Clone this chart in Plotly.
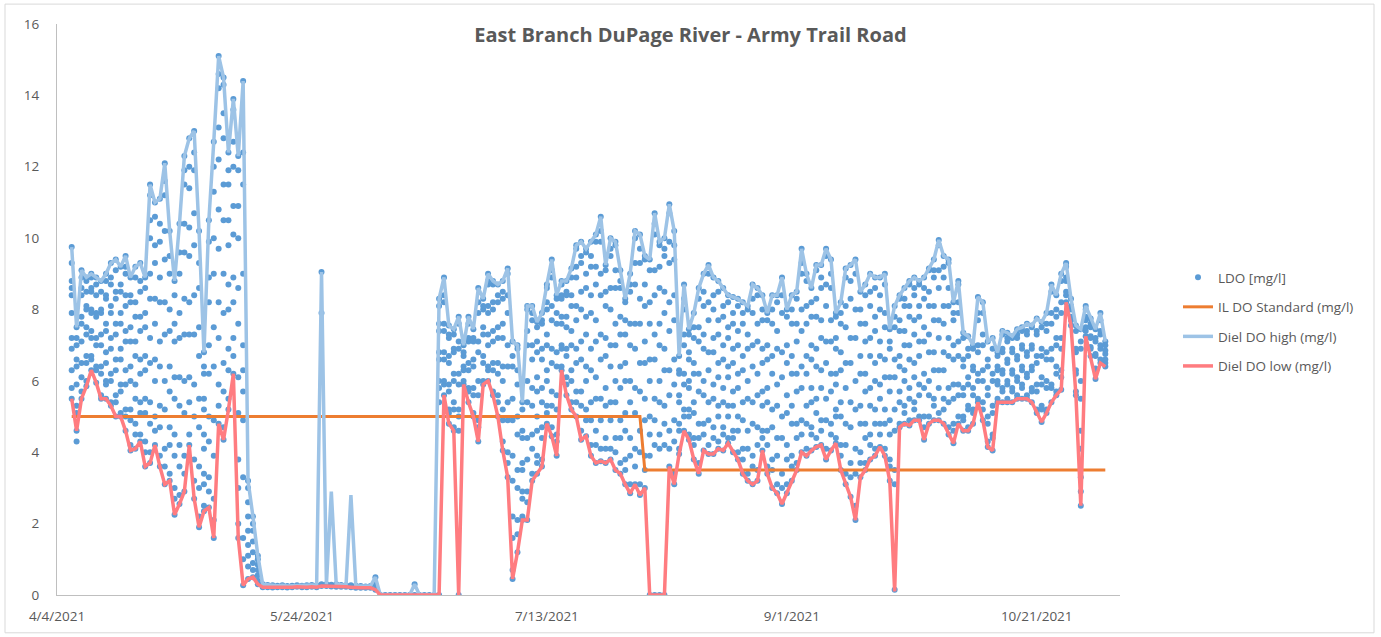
import plotly.graph_objects as go
import pandas as pd

# ---------------- data ----------------
start_date = "2021-04-07"   # first day with readings (daily series)

# Diel DO high (mg/l), one value per day from 4/7/2021
diel_high = [
    9.75, 7.5, 9.1, 8.9, 9.0, 8.9, 8.8, 9.0, 9.3, 9.4, 9.2, 9.5, 8.9, 9.2, 9.3, 8.9,
    11.5, 11.0, 11.1, 12.1, 10.2, 8.8, 10.4, 12.3, 12.8, 13.0, 10.2, 6.8, 10.5, 12.7,
    15.1, 14.5, 12.4, 13.9, 12.3, 14.4,
    3.2, 2.2, 1.1,
    0.3, 0.28, 0.27, 0.26, 0.27, 0.25, 0.26, 0.27, 0.26, 0.27, 0.28, 0.27,
    9.05, 0.3, 2.9, 0.3, 0.28, 0.27, 2.8, 0.26, 0.25, 0.24, 0.25, 0.5,
    0, 0, 0, 0, 0, 0, 0, 0.3, 0, 0, 0, 0,
    8.3, 8.9, 7.55, 7.45, 7.8, 7.0, 7.8, 7.45, 8.6, 8.3, 9.0, 8.8, 8.7, 8.8, 9.15, 7.1,
    7.0, 5.4, 8.1, 8.1, 7.65, 7.9, 8.7, 9.4, 8.4, 8.8, 8.8, 9.15, 9.8, 9.9, 9.7, 9.9,
    10.1, 10.6, 9.25, 10.0, 9.9, 9.1, 8.3, 9.0, 10.2, 10.1, 9.5, 9.4, 10.7, 9.9, 10.0,
    10.95, 10.2, 6.7, 8.7, 7.45, 7.9, 8.6, 9.0, 9.25, 8.9, 8.8, 8.6, 8.4, 8.35, 8.3,
    8.2, 8.1, 8.7, 8.6, 8.4, 7.9,
    8.4, 8.4, 8.9, 8.0, 8.4, 8.5, 9.7, 9.0, 8.6, 9.25, 9.25, 9.7, 9.4, 7.9, 8.2, 9.15,
    9.25, 9.4, 8.5, 8.7, 9.0, 8.9, 8.9, 9.0, 7.45, 8.1, 8.4, 8.6, 8.8, 8.9, 8.8, 8.9,
    9.15, 9.4, 9.95, 9.5, 9.4, 8.2,
    8.8, 7.35, 7.25, 7.0, 8.35, 8.2, 7.1, 7.2, 6.8, 7.4, 7.35, 7.25, 7.45, 7.5, 7.6,
    7.55, 7.75, 7.65, 7.9, 8.7, 8.4, 9.0, 9.3, 8.3, 7.55, 7.45, 8.1, 7.75, 7.45, 7.9, 7.1,
]

# Diel DO low (mg/l), one value per day from 4/7/2021
diel_low = [
    5.5, 4.6, 5.5, 5.85, 6.3, 5.95, 5.5, 5.5, 5.3, 5.0, 5.0, 4.6, 4.05, 4.1, 4.3, 3.6,
    3.7, 4.2, 3.6, 3.1, 3.2, 2.25, 2.55, 2.9, 4.2, 2.7, 1.9, 2.35, 2.45, 1.6, 4.8, 4.35,
    5.2, 6.2, 1.6, 0.27,
    0.45, 0.5, 0.3,
    0.22, 0.22, 0.21, 0.22, 0.22, 0.21, 0.22, 0.23, 0.22, 0.22, 0.23, 0.22,
    0.25, 0.25, 0.24, 0.23, 0.23, 0.23, 0.22, 0.2, 0.2, 0.2, 0.2, 0.15,
    0, 0, 0, 0, 0, 0, 0, 0, 0, 0, 0, 0,
    0, 5.6, 4.8, 4.6, 0, 5.9, 5.4, 5.0, 4.3, 5.9, 6.0, 5.6, 5.0, 4.05, 3.3, 0.45,
    1.2, 2.1, 2.1, 3.2, 3.4, 3.6, 4.8, 4.45, 3.9, 6.3, 5.6, 5.2, 5.0, 4.35, 4.45, 3.9,
    3.7, 3.75, 3.7, 3.8, 3.5, 3.4, 3.1, 2.85, 3.1, 2.8, 3.0, 0, 0, 0, 0, 3.6, 3.1,
    3.95, 4.6, 4.35, 3.8, 3.4, 4.05, 3.95, 3.95, 4.1, 4.05, 4.25, 4.0, 3.8, 3.4, 3.2,
    3.1, 3.2, 4.05, 3.4,
    3.0, 2.85, 2.55, 2.85, 3.2, 3.5, 4.0, 3.9, 4.05, 4.15, 4.2, 3.8, 4.05, 4.25, 3.5,
    3.1, 2.75, 2.1, 3.3, 3.5, 3.8, 3.9, 4.15, 3.9, 3.2, 0.1, 4.7, 4.8, 4.75, 4.9, 4.9,
    4.35, 4.8, 4.9, 4.9, 4.8, 4.5, 4.25,
    4.8, 4.6, 4.6, 4.8, 5.4, 4.9, 4.15, 4.05, 5.4, 5.4, 5.4, 5.4, 5.5, 5.5, 5.5, 5.4,
    5.1, 4.85, 5.1, 5.4, 5.6, 5.75, 8.2, 7.55, 5.6, 2.5, 7.25, 6.7, 6.05, 6.5, 6.4,
]

# LDO readings (mg/l): the readings of each day from 4/7/2021, one string per day
ldo_readings = [
    "5.5 5.8 6.3 6.9 7.2 7.9 8.4 8.6 8.8 9.3 9.75", "4.3 4.6 5.1 5.3 5.9 6.4 6.6 7.0 7.2 7.5",
    "5.5 5.7 6.1 6.5 7.1 7.6 7.8 8.4 8.6 8.9 9.1", "5.85 6.0 6.5 6.7 7.3 7.5 8.0 8.1 8.5 8.8 8.9",
    "6.3 6.6 6.7 7.2 7.4 7.9 8.0 8.5 8.6 8.9 9.0", "5.95 6.3 6.4 7.0 7.2 7.8 7.9 8.4 8.7 8.9",
    "5.5 5.6 6.2 6.4 7.0 7.3 7.9 8.0 8.5 8.8", "5.5 5.9 6.0 6.5 6.8 7.4 7.6 8.3 8.4 8.8 9.0",
    "5.3 5.4 6.0 6.2 6.9 7.2 7.9 8.1 8.7 8.9 9.3", "5.0 5.4 5.6 6.3 6.6 7.3 7.6 8.3 8.5 9.1 9.4",
    "5.0 5.1 5.7 5.9 6.6 6.9 7.6 7.9 8.5 8.7 9.2", "4.6 5.0 5.2 5.9 6.3 7.1 7.4 8.1 8.4 9.0 9.2 9.5",
    "4.05 4.2 4.9 5.2 6.0 6.4 7.1 7.5 8.2 8.4 8.9", "4.1 4.5 4.8 5.5 5.9 6.7 7.1 7.8 8.2 8.9 9.2",
    "4.3 4.5 5.1 5.4 6.2 6.6 7.4 7.8 8.5 8.8 9.3", "3.6 4.0 4.3 5.1 5.5 6.3 6.7 7.5 7.9 8.6 8.9",
    "3.7 4.0 4.8 5.4 6.5 7.2 8.3 9.0 10.0 10.5 11.2 11.5", "4.2 4.6 5.0 6.0 6.6 7.6 8.3 9.3 9.8 10.6 11.0",
    "3.6 3.9 4.7 5.3 6.4 7.1 8.2 8.9 9.9 10.4 11.1", "3.1 3.6 4.1 5.2 6.0 7.3 8.2 9.4 10.2 11.2 11.6 12.1",
    "3.2 3.4 4.2 4.7 5.7 6.4 7.4 8.0 9.0 9.5 10.2", "2.25 2.7 3.0 3.9 4.5 5.5 6.1 7.1 7.6 8.4 8.8",
    "2.55 2.8 3.6 4.2 5.3 6.1 7.2 7.9 9.0 9.6 10.4", "2.9 3.4 3.9 5.1 6.0 7.3 8.3 9.6 10.4 11.5 11.9 12.3",
    "4.2 4.5 5.4 6.1 7.3 8.2 9.5 10.3 11.4 12.0 12.8", "2.7 3.2 3.8 5.0 5.9 7.3 8.4 9.8 10.7 11.9 12.4 13.0",
    "1.9 2.2 3.0 3.6 4.7 5.5 6.7 7.5 8.6 9.3 10.2", "2.35 2.5 3.1 3.4 4.1 4.5 5.2 5.5 6.2 6.4 6.8",
    "2.45 2.9 3.3 4.3 5.0 6.2 7.0 8.2 8.9 9.9 10.5", "1.6 2.1 2.7 3.9 4.9 6.4 7.5 9.0 10.0 11.3 12.0 12.7",
    "4.8 5.3 5.9 7.2 8.2 9.7 10.8 12.2 13.1 14.2 14.6 15.1", "4.35 4.7 5.7 6.5 7.9 9.0 10.5 11.5 12.8 13.5 14.3 14.5",
    "5.2 5.5 6.3 6.9 8.0 8.7 9.8 10.5 11.5 11.9 12.4", "6.2 6.7 7.2 8.2 8.9 10.1 10.9 12.0 12.7 13.6 13.9",
    "1.6 2.0 3.0 3.8 5.1 6.1 7.6 8.6 10.0 10.9 11.9 12.3", "0.27 1.0 1.6 3.3 4.9 5.7 6.3 7.0 9.0 11.5 12.4 14.4",
    "0.45 0.8 1.1 1.4 1.8 2.2 2.6 3.0 3.2", "0.5 0.7 0.9 1.2 1.5 1.8 2.0 2.2", "0.3 0.4 0.55 0.7 0.85 1.0 1.1",
    "0.22 0.25 0.27 0.3", "0.22 0.24 0.26 0.28", "0.21 0.24 0.27", "0.22 0.24 0.26",
    "0.22 0.25 0.27", "0.21 0.23 0.25", "0.22 0.24 0.26", "0.23 0.25 0.27",
    "0.22 0.24 0.26", "0.22 0.25 0.27", "0.23 0.26 0.28", "0.22 0.25 0.27",
    "0.25 0.3 7.9 9.05", "0.25 0.28 0.3", "0.24 0.27 0.29", "0.23 0.26 0.3",
    "0.23 0.26 0.28", "0.23 0.25 0.27", "0.22 0.25 0.27", "0.2 0.24 0.26",
    "0.2 0.23 0.25", "0.2 0.22 0.24", "0.2 0.23 0.25", "0.15 0.3 0.5",
    "0", "0", "0", "0", "0", "0", "0", "0 0.3", "0", "0", "0", "0",
    "0 5.4 5.8 6.0 6.6 6.8 7.4 7.6 8.1 8.3", "5.6 5.9 6.0 6.6 6.8 7.4 7.6 8.2 8.4 8.9",
    "4.8 5.1 5.2 5.7 5.9 6.5 6.7 7.2 7.3 7.55", "4.6 4.7 5.2 5.4 6.0 6.2 6.8 6.9 7.3 7.45",
    "0 4.6 5.0 5.2 5.9 6.2 6.9 7.1 7.6 7.8", "5.9 6.0 6.3 6.4 6.7 6.8 7.0",
    "5.4 5.7 5.8 6.3 6.5 7.1 7.2 7.6 7.8", "5.0 5.1 5.6 5.8 6.4 6.6 7.1 7.2 7.45",
    "4.3 4.7 4.9 5.6 6.0 6.8 7.1 7.9 8.2 8.6", "5.9 6.0 6.5 6.7 7.3 7.5 8.0 8.1 8.3",
    "6.0 6.3 6.4 7.0 7.3 7.9 8.1 8.7 8.8 9.0", "5.6 5.7 6.3 6.5 7.1 7.4 8.0 8.2 8.7 8.8",
    "5.0 5.4 5.6 6.2 6.5 7.2 7.5 8.2 8.4 8.7", "4.05 4.3 4.9 5.2 6.0 6.4 7.2 7.6 8.3 8.5 8.8",
    "3.3 3.7 4.0 4.9 5.4 6.4 7.0 7.9 8.4 9.0 9.15", "0.45 0.7 1.6 2.2 3.2 3.9 4.9 5.5 6.4 6.7 7.1",
    "1.2 1.7 2.1 3.0 3.5 4.5 5.0 5.9 6.3 6.9 7.0", "2.1 2.2 2.7 2.9 3.5 3.7 4.4 4.6 5.2 5.4",
    "2.1 2.6 2.9 3.8 4.4 5.4 6.0 7.0 7.4 8.0 8.1", "3.2 3.4 4.1 4.5 5.3 5.8 6.6 7.0 7.7 7.9 8.1",
    "3.4 3.7 3.9 4.6 5.0 5.7 6.1 6.8 7.1 7.5 7.65", "3.6 3.8 4.4 4.7 5.4 5.8 6.6 6.9 7.6 7.7 7.9",
    "4.8 5.1 5.3 6.0 6.3 7.0 7.3 8.0 8.2 8.6 8.7", "4.45 4.7 5.3 5.7 6.5 6.9 7.7 8.1 8.9 9.1 9.4",
    "3.9 4.3 4.5 5.2 5.6 6.4 6.8 7.6 7.9 8.3 8.4", "6.3 6.4 6.9 7.0 7.6 7.8 8.3 8.4 8.7 8.8",
    "5.6 5.9 6.1 6.7 6.9 7.5 7.8 8.4 8.5 8.8", "5.2 5.4 6.0 6.3 7.0 7.4 8.1 8.4 8.9 9.15",
    "5.0 5.4 5.7 6.5 6.9 7.7 8.1 8.9 9.2 9.7 9.8", "4.35 4.6 5.3 5.7 6.6 7.1 8.0 8.5 9.3 9.5 9.9",
    "4.45 4.9 5.2 6.0 6.4 7.3 7.8 8.6 9.0 9.6 9.7", "3.9 4.2 4.9 5.4 6.3 6.9 7.9 8.4 9.2 9.5 9.9",
    "3.7 4.2 4.6 5.5 6.1 7.1 7.7 8.7 9.2 9.9 10.1", "3.75 4.1 4.9 5.5 6.6 7.3 8.4 9.0 9.9 10.2 10.6",
    "3.7 4.1 4.4 5.3 5.8 6.7 7.2 8.1 8.5 9.1 9.25", "3.8 4.1 4.9 5.4 6.4 7.0 8.0 8.6 9.5 9.7 10.0",
    "3.5 4.0 4.4 5.4 6.0 7.0 7.6 8.6 9.1 9.8 9.9", "3.4 3.7 4.4 4.9 5.8 6.4 7.3 7.8 8.6 8.8 9.1",
    "3.1 3.5 3.8 4.6 5.1 6.0 6.5 7.3 7.7 8.2 8.3", "2.85 3.1 3.9 4.4 5.4 6.0 7.0 7.6 8.5 8.7 9.0",
    "3.1 3.6 4.1 5.1 5.8 6.9 7.6 8.7 9.3 10.0 10.2", "2.8 3.1 4.0 4.6 5.7 6.5 7.6 8.3 9.3 9.7 10.1",
    "3.0 3.5 3.9 4.9 5.5 6.5 7.1 8.1 8.7 9.4 9.5", "0 3.9 4.5 5.0 6.0 6.6 7.6 8.2 9.1 9.4",
    "0 4.2 4.9 5.5 6.6 7.3 8.4 9.1 10.1 10.4 10.7", "0 4.1 4.5 5.4 6.0 7.0 7.6 8.6 9.2 9.8 9.9",
    "0 4.2 4.8 5.3 6.3 6.9 7.9 8.5 9.5 9.7 10.0", "3.6 4.1 4.6 5.6 6.3 7.4 8.2 9.3 9.9 10.7 10.95",
    "3.1 3.4 4.3 4.9 5.9 6.6 7.7 8.4 9.4 9.8 10.2", "3.95 4.1 4.6 4.8 5.4 5.6 6.2 6.3 6.7",
    "4.6 5.0 5.2 5.9 6.2 7.0 7.3 8.0 8.3 8.7", "4.35 4.5 5.0 5.2 5.8 6.0 6.6 6.8 7.3 7.45",
    "3.8 4.2 4.4 5.1 5.4 6.2 6.5 7.2 7.5 7.9", "3.4 3.7 4.4 4.8 5.7 6.2 7.1 7.5 8.3 8.6",
    "4.05 4.5 4.8 5.6 6.0 6.9 7.3 8.1 8.5 9.0", "3.95 4.2 4.9 5.4 6.3 6.8 7.7 8.2 9.0 9.25",
    "3.95 4.4 4.7 5.5 5.9 6.8 7.2 8.0 8.4 8.9", "4.1 4.3 5.0 5.3 6.1 6.5 7.3 7.7 8.5 8.8",
    "4.05 4.5 4.7 5.4 5.8 6.6 7.0 7.8 8.1 8.6", "4.25 4.4 5.0 5.3 6.1 6.4 7.2 7.5 8.2 8.4",
    "4.0 4.4 4.6 5.3 5.7 6.5 6.9 7.6 7.9 8.35", "3.8 4.0 4.6 5.0 5.8 6.2 7.0 7.4 8.1 8.3",
    "3.4 3.8 4.1 4.9 5.4 6.3 6.7 7.6 7.9 8.2", "3.2 3.4 4.1 4.6 5.5 6.0 6.9 7.3 8.0 8.1",
    "3.1 3.6 3.9 4.8 5.4 6.4 7.0 7.9 8.3 8.7", "3.2 3.5 4.2 4.7 5.6 6.2 7.1 7.6 8.4 8.6",
    "4.05 4.4 4.6 5.3 5.7 6.5 6.9 7.7 8.0 8.4", "3.4 3.6 4.2 4.6 5.4 5.8 6.6 7.0 7.7 7.9",
    "3.0 3.5 3.8 4.7 5.2 6.2 6.7 7.6 8.0 8.4", "2.85 3.1 3.9 4.4 5.3 5.9 6.9 7.4 8.2 8.4",
    "2.55 3.0 3.4 4.4 5.0 6.1 6.8 7.9 8.4 8.9", "2.85 3.1 3.8 4.2 5.1 5.6 6.5 7.0 7.8 8.0",
    "3.2 3.6 3.9 4.8 5.3 6.2 6.7 7.6 8.0 8.4", "3.5 3.7 4.4 4.8 5.7 6.2 7.1 7.6 8.3 8.5",
    "4.0 4.5 4.9 5.8 6.4 7.4 8.0 9.0 9.3 9.7", "3.9 4.1 4.8 5.3 6.2 6.7 7.6 8.1 8.8 9.0",
    "4.05 4.5 4.7 5.4 5.8 6.6 7.0 7.8 8.2 8.6", "4.15 4.4 5.1 5.5 6.4 6.9 7.8 8.3 9.1 9.25",
    "4.2 4.6 4.9 5.8 6.3 7.2 7.7 8.6 8.9 9.25", "3.8 4.1 4.9 5.5 6.5 7.1 8.1 8.7 9.5 9.7",
    "4.05 4.5 4.8 5.7 6.2 7.1 7.7 8.6 9.0 9.4", "4.25 4.4 5.0 5.2 5.9 6.2 6.9 7.2 7.8 7.9",
    "3.5 3.9 4.2 5.0 5.4 6.3 6.8 7.6 7.9 8.2", "3.1 3.4 4.2 4.8 5.8 6.5 7.5 8.1 8.9 9.15",
    "2.75 3.3 3.7 4.7 5.4 6.5 7.2 8.3 8.8 9.25", "2.1 2.5 3.4 4.1 5.2 6.0 7.2 8.0 9.0 9.4",
    "3.3 3.7 4.0 4.8 5.3 6.2 6.7 7.6 8.0 8.5", "3.5 3.7 4.4 4.8 5.7 6.2 7.1 7.6 8.4 8.7",
    "3.8 4.2 4.5 5.3 5.8 6.7 7.2 8.1 8.5 9.0", "3.9 4.1 4.8 5.2 6.0 6.5 7.4 7.8 8.6 8.9",
    "4.15 4.5 4.8 5.5 5.9 6.7 7.1 8.0 8.4 8.9", "3.9 4.1 4.8 5.2 6.1 6.6 7.5 7.9 8.7 9.0",
    "3.2 3.6 3.8 4.5 4.9 5.7 6.1 6.9 7.1 7.45", "0.15 3.1 3.5 4.6 5.2 6.1 6.6 7.5 7.8 8.1",
    "4.7 4.8 5.4 5.7 6.4 6.7 7.4 7.7 8.3 8.4", "4.8 5.1 5.3 6.0 6.3 7.0 7.4 8.1 8.3 8.6",
    "4.75 4.9 5.5 5.8 6.6 7.0 7.8 8.1 8.7 8.8", "4.9 5.2 5.4 6.1 6.5 7.3 7.7 8.4 8.6 8.9",
    "4.9 5.0 5.6 5.9 6.7 7.1 7.8 8.1 8.7 8.8", "4.35 4.7 5.0 5.8 6.2 7.1 7.5 8.3 8.6 8.9",
    "4.8 5.0 5.6 6.0 6.8 7.3 8.1 8.5 9.1 9.15", "4.9 5.3 5.5 6.3 6.8 7.7 8.1 8.9 9.1 9.4",
    "4.9 5.1 5.8 6.3 7.2 7.7 8.6 9.1 9.8 9.95", "4.8 5.2 5.5 6.3 6.8 7.6 8.1 8.9 9.2 9.5",
    "4.5 4.7 5.4 5.8 6.7 7.2 8.1 8.6 9.3 9.4", "4.25 4.6 4.8 5.5 5.9 6.6 7.0 7.7 7.9 8.2",
    "4.8 5.0 5.6 5.9 6.7 7.1 7.9 8.2 8.7 8.8", "4.6 4.9 5.0 5.6 5.8 6.4 6.6 7.2 7.35",
    "4.6 4.7 5.2 5.3 5.9 6.1 6.7 6.9 7.25", "4.8 5.1 5.2 5.6 5.8 6.3 6.4 6.9 7.0",
    "5.4 5.5 6.0 6.2 6.8 7.0 7.7 7.9 8.35", "4.9 5.2 5.4 6.0 6.3 7.0 7.3 7.9 8.2",
    "4.15 4.3 4.8 5.0 5.6 5.8 6.4 6.6 7.1", "4.05 4.4 4.5 5.1 5.3 6.0 6.2 6.9 7.2",
    "5.4 5.5 5.9 6.0 6.3 6.4 6.7 6.8", "5.4 5.7 5.8 6.2 6.3 6.8 6.9 7.3 7.4",
    "5.4 5.5 5.9 6.0 6.5 6.6 7.1 7.2 7.35", "5.4 5.7 5.8 6.2 6.3 6.8 6.9 7.2 7.25",
    "5.5 5.6 6.0 6.1 6.6 6.7 7.2 7.3 7.45", "5.5 5.8 5.9 6.3 6.4 6.9 7.0 7.4 7.5",
    "5.5 5.6 6.1 6.2 6.7 6.8 7.3 7.4 7.6", "5.4 5.7 5.8 6.3 6.4 6.9 7.0 7.5 7.55",
    "5.1 5.2 5.7 5.9 6.5 6.7 7.3 7.4 7.75", "4.85 5.2 5.3 5.9 6.1 6.7 6.9 7.5 7.65",
    "5.1 5.2 5.8 6.0 6.6 6.8 7.4 7.6 7.9", "5.4 5.8 5.9 6.6 6.9 7.6 7.9 8.5 8.7",
    "5.6 5.7 6.2 6.4 7.0 7.2 7.8 8.0 8.4", "5.75 6.1 6.3 6.9 7.2 7.9 8.2 8.8 9.0",
    "8.2 8.4 8.5 8.8 8.9 9.2 9.3", "7.55 7.7 7.8 8.0 8.1 8.3",
    "5.6 5.7 6.2 6.3 6.8 6.9 7.4 7.55", "2.5 2.9 3.3 4.1 4.6 5.5 6.0 6.9 7.1 7.45",
    "7.25 7.4 7.5 7.7 7.8 8.0 8.1", "6.7 6.9 6.95 7.2 7.25 7.5 7.6 7.75",
    "6.05 6.3 6.35 6.7 6.75 7.1 7.2 7.45", "6.5 6.6 6.9 7.0 7.3 7.4 7.7 7.9",
    "6.4 6.5 6.6 6.75 6.85 7.0 7.1",
]

# IL DO standard (mg/l)
standard_dates = ["2021-04-07", "2021-08-01", "2021-08-02", "2021-11-04"]
standard_values = [5.0, 5.0, 3.5, 3.5]

# x-axis tick labels
tick_dates = ["2021-04-04", "2021-05-24", "2021-07-13", "2021-09-01", "2021-10-21"]
tick_labels = ["4/4/2021", "5/24/2021", "7/13/2021", "9/1/2021", "10/21/2021"]

title_text = "East Branch DuPage River - Army Trail Road"

# ---------------- build ----------------
days_high = pd.date_range(start_date, periods=len(diel_high), freq="D")
days_low = pd.date_range(start_date, periods=len(diel_low), freq="D")
days_ldo = pd.date_range(start_date, periods=len(ldo_readings), freq="D")

ldo_x, ldo_y = [], []
for day, vals in zip(days_ldo, ldo_readings):
    for v in vals.split():
        ldo_x.append(day)
        ldo_y.append(float(v))

FONT = "Open Sans, Liberation Sans, sans-serif"
GRAY = "#595959"

fig = go.Figure()
fig.add_trace(go.Scatter(
    x=ldo_x, y=ldo_y, mode="markers", name="LDO [mg/l]", legendgroup="a",
    marker=dict(color="#5B9BD5", size=6, line=dict(width=0)),
))
fig.add_trace(go.Scatter(
    x=pd.to_datetime(standard_dates), y=standard_values, mode="lines", legendgroup="b",
    name="IL DO Standard (mg/l)", line=dict(color="#ED7D31", width=3),
))
fig.add_trace(go.Scatter(
    x=days_high, y=diel_high, mode="lines", name="Diel DO high (mg/l)", legendgroup="c",
    line=dict(color="#9DC3E6", width=3.5),
))
fig.add_trace(go.Scatter(
    x=days_low, y=diel_low, mode="lines", name="Diel DO low (mg/l)", legendgroup="d",
    line=dict(color="#FF7C80", width=3.5),
))

W, H = 1381, 637
ML, MR, MT, MB = 57, 261, 24, 39
pw, ph = W - ML - MR, H - MT - MB

def px2paper_x(px):
    return (px - ML) / pw

def px2paper_y(py):
    return (H - MB - py) / ph

fig.update_layout(
    width=W, height=H,
    margin=dict(l=ML, r=MR, t=MT, b=MB, pad=0),
    paper_bgcolor="white", plot_bgcolor="white",
    font=dict(family=FONT, color=GRAY, size=13),
    title=dict(text=title_text, x=0.5, xref="container", xanchor="center",
               y=1 - 35 / H, yref="container", yanchor="middle",
               font=dict(family=FONT, size=20, color=GRAY, weight="bold")),
    showlegend=True,
    legend=dict(xref="container", yref="container", x=1178 / W, y=1 - 262 / H,
                xanchor="left", yanchor="top", font=dict(family=FONT, size=13.5, color=GRAY),
                tracegroupgap=9, bgcolor="rgba(0,0,0,0)", itemwidth=30),
    shapes=[dict(type="rect", xref="paper", yref="paper",
                 x0=px2paper_x(5), x1=px2paper_x(1374), y0=px2paper_y(636), y1=px2paper_y(4),
                 line=dict(color="#D9D9D9", width=1), fillcolor="rgba(0,0,0,0)", layer="below")],
)

fig.update_xaxes(
    type="date", range=["2021-04-04", "2021-11-07"],
    tickmode="array", tickvals=pd.to_datetime(tick_dates), ticktext=tick_labels,
    showgrid=False, zeroline=False, showline=True, linecolor="#BFBFBF", linewidth=1,
    ticks="", tickfont=dict(family=FONT, size=13.5, color=GRAY), ticklabelstandoff=9,
)
fig.update_yaxes(
    range=[0, 16], dtick=2, tick0=0,
    showgrid=False, zeroline=False, showline=True, linecolor="#BFBFBF", linewidth=1,
    ticks="", tickfont=dict(family=FONT, size=13.5, color=GRAY), ticklabelstandoff=14,
)

fig.write_html(
    "out.html",
    config={"displayModeBar": False},
    post_script="document.body.style.margin='0';document.body.style.padding='0';",
)
